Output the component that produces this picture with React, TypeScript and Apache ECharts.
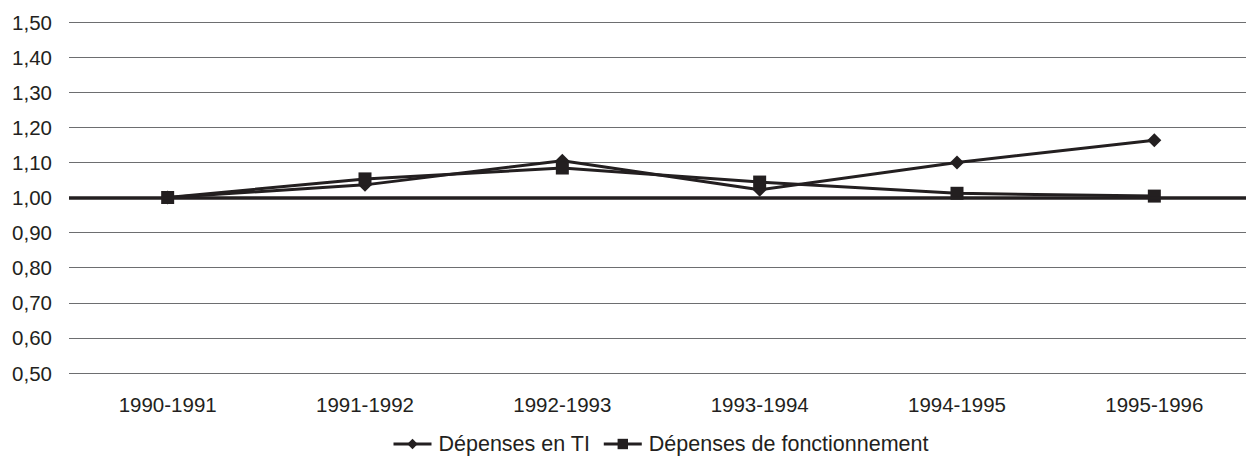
import React, { useEffect, useRef } from "react";
import * as echarts from "echarts";

const categories = ["1990-1991", "1991-1992", "1992-1993", "1993-1994", "1994-1995", "1995-1996"];
const depensesTI = [1.0, 1.036, 1.105, 1.022, 1.1, 1.163];
const depensesFonct = [1.0, 1.053, 1.084, 1.044, 1.012, 1.004];
const seriesNames = ["Dépenses en TI", "Dépenses de fonctionnement"];

export default function App() {
  const ref = useRef<HTMLDivElement>(null);
  useEffect(() => {
    if (!ref.current) return;
    const chart = echarts.init(ref.current, undefined, { renderer: "svg" });
    const font = "'Liberation Sans', Arial, Helvetica, sans-serif";
    chart.setOption({
      animation: false,
      backgroundColor: "#ffffff",
      grid: { left: 69, right: 7, top: 22, bottom: 94, containLabel: false },
      legend: {
        top: 428,
        left: 387,
        itemWidth: 38,
        itemHeight: 13,
        itemGap: 12,
        lineStyle: { width: 3 },
        textStyle: { fontFamily: font, fontSize: 21.5, color: "#231f20", padding: [0, 0, 0, 2] },
        data: seriesNames,
      },
      xAxis: {
        type: "category",
        data: categories,
        boundaryGap: true,
        axisLine: { show: false },
        axisTick: { show: false },
        axisLabel: { fontFamily: font, fontSize: 20.5, color: "#231f20", margin: 21 },
      },
      yAxis: {
        type: "value",
        min: 0.5,
        max: 1.5,
        interval: 0.1,
        axisLine: { show: false },
        axisTick: { show: false },
        splitLine: { lineStyle: { color: "#6d6e70", width: 1 } },
        axisLabel: {
          fontFamily: font,
          fontSize: 20.5,
          color: "#231f20",
          margin: 17,
          formatter: (v: number) => v.toFixed(2).replace(".", ","),
        },
      },
      series: [
        {
          name: seriesNames[0],
          type: "line",
          data: depensesTI,
          symbol: "diamond",
          symbolSize: 14,
          lineStyle: { color: "#231f20", width: 3 },
          itemStyle: { color: "#231f20" },
          markLine: {
            silent: true,
            symbol: "none",
            label: { show: false },
            lineStyle: { color: "#231f20", width: 3.5, type: "solid" },
            data: [{ yAxis: 1.0 }],
          },
        },
        {
          name: seriesNames[1],
          type: "line",
          data: depensesFonct,
          symbol: "rect",
          symbolSize: 13,
          lineStyle: { color: "#231f20", width: 3 },
          itemStyle: { color: "#231f20" },
        },
      ],
    });
    return () => chart.dispose();
  }, []);
  return (
    <div style={{ position: "absolute", left: 0, top: 0, width: 1246, height: 467, overflow: "hidden" }}>
      <div ref={ref} style={{ width: 1260, height: 467 }} />
    </div>
  );
}
